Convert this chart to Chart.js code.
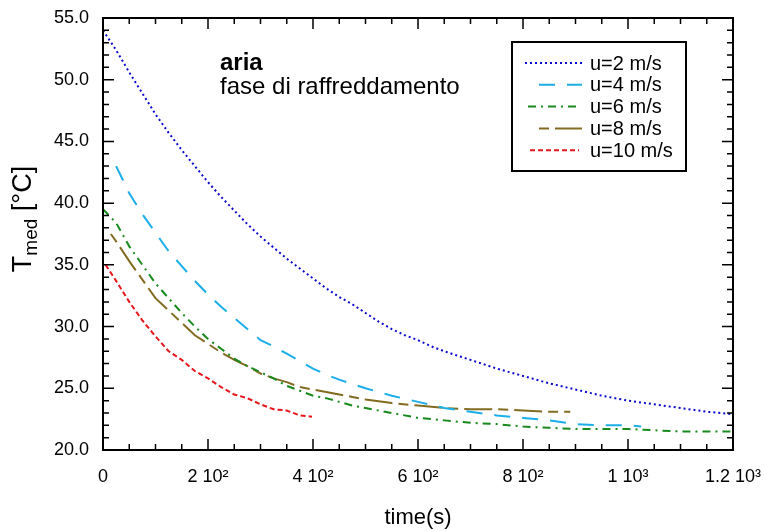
<!DOCTYPE html>
<html>
<head>
<meta charset="utf-8">
<script src="https://cdn.jsdelivr.net/npm/chart.js@4.4.0/dist/chart.umd.min.js"></script>
<style>
  html, body { margin: 0; padding: 0; background: #fff; }
  #wrap { width: 764px; height: 531px; }
</style>
</head>
<body>
<div id="wrap"><canvas id="myChart" width="764" height="531"></canvas></div>
<script>
// time (s) and mean temperature (°C) for each air speed
const time2 = [0, 25, 50, 75, 100, 125, 150, 175, 200, 225, 250, 275, 300, 325, 350, 375, 400, 425, 450, 475, 500, 525, 550, 575, 600, 625, 650, 700, 750, 800, 850, 900, 950, 1000, 1050, 1100, 1150, 1200];
const temp2 = [54.0, 52.4, 50.6, 48.9, 47.2, 45.7, 44.3, 43.0, 41.7, 40.5, 39.4, 38.3, 37.3, 36.4, 35.5, 34.7, 33.9, 33.1, 32.4, 31.8, 31.1, 30.4, 29.8, 29.3, 28.9, 28.4, 28.0, 27.3, 26.6, 26.0, 25.4, 24.9, 24.4, 24.0, 23.7, 23.4, 23.1, 22.9];

const time4 = [25, 50, 75, 100, 125, 150, 175, 200, 225, 250, 275, 300, 325, 350, 375, 400, 425, 450, 500, 550, 600, 650, 700, 750, 800, 850, 900, 950, 1000, 1025];
const temp4 = [43.0, 40.8, 39.1, 37.6, 36.1, 34.9, 33.7, 32.6, 31.6, 30.7, 29.8, 28.9, 28.4, 27.8, 27.2, 26.6, 26.1, 25.7, 25.0, 24.4, 23.9, 23.4, 23.1, 22.8, 22.6, 22.4, 22.1, 22.0, 22.0, 21.9];

const time6 = [0, 25, 50, 75, 100, 125, 150, 175, 200, 225, 250, 275, 300, 325, 350, 375, 400, 425, 450, 475, 500, 550, 600, 650, 700, 750, 800, 850, 900, 950, 1000, 1050, 1100, 1150, 1200];
const temp6 = [39.5, 38.4, 36.5, 35.0, 33.5, 32.3, 31.1, 30.0, 29.0, 28.2, 27.4, 26.8, 26.3, 25.8, 25.2, 24.8, 24.4, 24.2, 23.9, 23.6, 23.4, 23.0, 22.6, 22.4, 22.2, 22.1, 21.9, 21.8, 21.7, 21.7, 21.7, 21.6, 21.5, 21.5, 21.5];

const time8 = [15, 25, 50, 75, 100, 125, 150, 175, 200, 225, 250, 275, 300, 325, 350, 375, 400, 425, 450, 475, 500, 550, 600, 650, 700, 750, 800, 850, 890];
const temp8 = [37.5, 36.9, 35.3, 33.8, 32.3, 31.3, 30.3, 29.3, 28.6, 27.9, 27.3, 26.8, 26.2, 25.8, 25.5, 25.1, 24.9, 24.7, 24.5, 24.3, 24.1, 23.8, 23.6, 23.4, 23.3, 23.3, 23.2, 23.1, 23.1];

const time10 = [5, 25, 50, 75, 100, 125, 150, 175, 200, 225, 250, 275, 300, 325, 350, 375, 398];
const temp10 = [35.0, 33.7, 32.0, 30.5, 29.2, 28.0, 27.3, 26.4, 25.8, 25.1, 24.5, 24.2, 23.7, 23.3, 23.2, 22.8, 22.7];

const seriesNames = ['u=2 m/s', 'u=4 m/s', 'u=6 m/s', 'u=8 m/s', 'u=10 m/s'];
const xTickLabels = ['0', '2 10\u00B2', '4 10\u00B2', '6 10\u00B2', '8 10\u00B2', '1 10\u00B3', '1.2 10\u00B3'];

const FONT = "'Liberation Sans', Arial, Helvetica, sans-serif";

function pts(t, v) {
  return t.map((x, i) => ({ x: x, y: v[i] }));
}

const styles = [
  { color: '#0a0ad2', dash: [2, 3], lx: 525, rx: 582 },
  { color: '#1caee8', dash: [16, 12], lx: 539, rx: 582 },
  { color: '#18891c', dash: [8, 5, 2, 5], lx: 528, rx: 576 },
  { color: '#826c22', dash: [10, 6, 28, 6], lx: 539, rx: 582 },
  { color: '#e6161c', dash: [5, 3], lx: 530, rx: 579 }
];

const allData = [pts(time2, temp2), pts(time4, temp4), pts(time6, temp6), pts(time8, temp8), pts(time10, temp10)];

const datasets = allData.map((d, i) => ({
  label: seriesNames[i],
  data: d,
  borderColor: styles[i].color,
  borderDash: styles[i].dash,
  borderWidth: 2,
  pointRadius: 0,
  fill: false,
  tension: 0
}));

// frame, inward ticks, y title, note and legend
const decorations = {
  id: 'decorations',
  afterDraw(chart) {
    const ctx = chart.ctx;
    const a = chart.chartArea;
    const xs = chart.scales.x, ys = chart.scales.y;
    ctx.save();
    ctx.strokeStyle = '#000';
    ctx.lineWidth = 2;
    ctx.strokeRect(a.left, a.top, a.right - a.left, a.bottom - a.top);

    ctx.lineWidth = 1.5;
    ctx.beginPath();
    for (let t = 0; t <= 1200; t += 50) {
      const px = xs.getPixelForValue(t);
      const len = (t % 200 === 0) ? 11 : 6;
      ctx.moveTo(px, a.bottom); ctx.lineTo(px, a.bottom - len);
      ctx.moveTo(px, a.top); ctx.lineTo(px, a.top + len);
    }
    for (let v = 20; v <= 55; v += 1) {
      const py = ys.getPixelForValue(v);
      const len = (v % 5 === 0) ? 11 : 6;
      ctx.moveTo(a.left, py); ctx.lineTo(a.left + len, py);
      ctx.moveTo(a.right, py); ctx.lineTo(a.right - len, py);
    }
    ctx.stroke();

    // y title with subscript
    ctx.fillStyle = '#000';
    ctx.save();
    ctx.translate(31, 219);
    ctx.rotate(-Math.PI / 2);
    ctx.textBaseline = 'alphabetic';
    ctx.font = '27px ' + FONT;
    const wT = ctx.measureText('T').width;
    const wRest = ctx.measureText(' [\u00B0C]').width;
    ctx.font = '19px ' + FONT;
    const wSub = ctx.measureText('med').width;
    let x0 = -(wT + wSub + wRest) / 2;
    ctx.font = '27px ' + FONT;
    ctx.fillText('T', x0, 0);
    ctx.font = '19px ' + FONT;
    ctx.fillText('med', x0 + wT, 6);
    ctx.font = '27px ' + FONT;
    ctx.fillText(' [\u00B0C]', x0 + wT + wSub, 0);
    ctx.restore();

    // note
    ctx.textAlign = 'left';
    ctx.textBaseline = 'alphabetic';
    ctx.font = 'bold 24px ' + FONT;
    ctx.fillText('aria', 220, 70);
    ctx.font = '24px ' + FONT;
    ctx.fillText('fase di raffreddamento', 220, 94);

    // legend
    ctx.lineWidth = 2;
    ctx.strokeStyle = '#000';
    ctx.strokeRect(512, 42, 174, 129);
    ctx.font = '20px ' + FONT;
    ctx.textBaseline = 'middle';
    seriesNames.forEach((name, i) => {
      const y = 63 + i * 21.8;
      ctx.save();
      ctx.strokeStyle = styles[i].color;
      ctx.lineWidth = 2;
      ctx.setLineDash(styles[i].dash);
      ctx.beginPath();
      ctx.moveTo(styles[i].lx, y); ctx.lineTo(styles[i].rx, y);
      ctx.stroke();
      ctx.restore();
      ctx.fillStyle = '#000';
      ctx.fillText(name, 590, y + 1);
    });
    ctx.restore();
  }
};

new Chart(document.getElementById('myChart').getContext('2d'), {
  type: 'line',
  data: { datasets: datasets },
  options: {
    responsive: false,
    animation: false,
    layout: { padding: { left: 0, top: 18, right: 31, bottom: 0 } },
    plugins: { legend: { display: false }, tooltip: { enabled: false } },
    scales: {
      x: {
        type: 'linear',
        min: 0, max: 1200,
        grid: { display: false, drawTicks: false },
        border: { display: false },
        afterFit(scale) {
          scale.height = 81;
          scale.paddingLeft = 0;
          scale.paddingRight = 0;
        },
        ticks: {
          stepSize: 200,
          autoSkip: false,
          maxRotation: 0,
          padding: 16,
          color: '#000',
          font: { family: FONT, size: 18 },
          callback: (v, i) => xTickLabels[i]
        },
        title: {
          display: true,
          text: 'time(s)',
          color: '#000',
          font: { family: FONT, size: 22 },
          padding: { top: 0, bottom: 0 }
        }
      },
      y: {
        type: 'linear',
        min: 20, max: 55,
        grid: { display: false, drawTicks: false },
        border: { display: false },
        afterFit(scale) { scale.width = 103; scale.paddingTop = 0; scale.paddingBottom = 0; },
        ticks: {
          stepSize: 5,
          padding: 14,
          color: '#000',
          font: { family: FONT, size: 18 },
          callback: v => v.toFixed(1)
        }
      }
    }
  },
  plugins: [decorations]
});
</script>
</body>
</html>
